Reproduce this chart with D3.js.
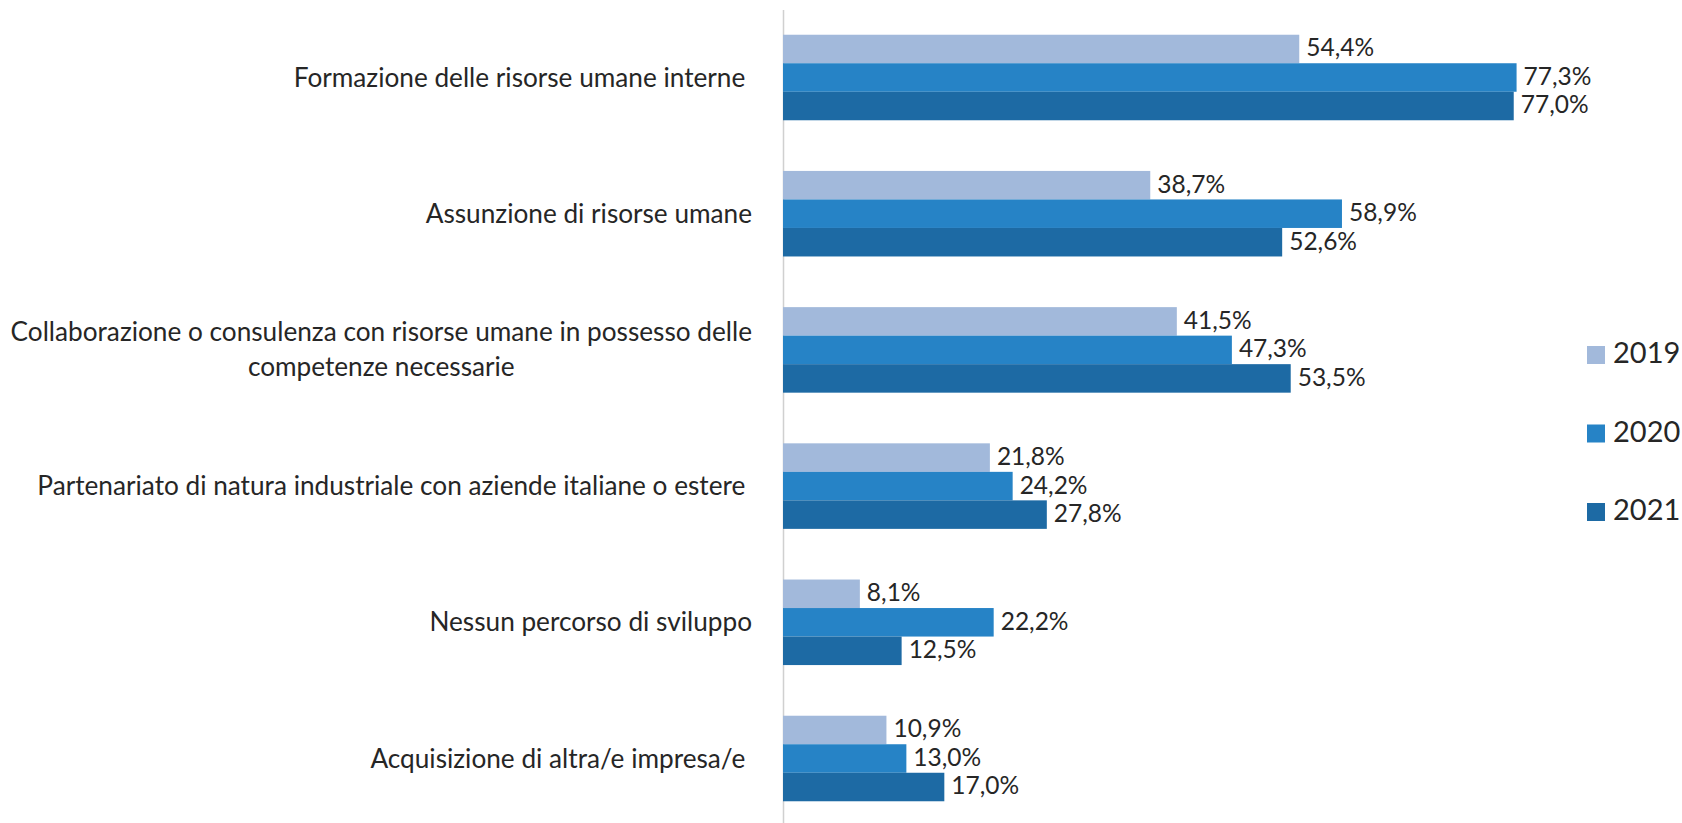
<!DOCTYPE html>
<html>
<head>
<meta charset="utf-8">
<script src="https://cdn.jsdelivr.net/npm/d3@7"></script>
<style>
  html, body { margin: 0; padding: 0; background: #ffffff; }
  svg { display: block; }
  text { font-family: Lato, "Open Sans", sans-serif; fill: #262626; white-space: pre; }
</style>
</head>
<body>
<svg id="chart" width="1682" height="823"></svg>
<script>
// ---- data ----
const categories = [
  "Formazione delle risorse umane interne ",
  "Assunzione di risorse umane",
  "Collaborazione o consulenza con risorse umane in possesso delle competenze necessarie",
  "Partenariato di natura industriale con aziende italiane o estere ",
  "Nessun percorso di sviluppo",
  "Acquisizione di altra/e impresa/e "
];
const categoryLines = [
  ["Formazione delle risorse umane interne "],
  ["Assunzione di risorse umane"],
  ["Collaborazione o consulenza con risorse umane in possesso delle", "competenze necessarie"],
  ["Partenariato di natura industriale con aziende italiane o estere "],
  ["Nessun percorso di sviluppo"],
  ["Acquisizione di altra/e impresa/e "]
];
const years = ["2019", "2020", "2021"];
const values2019 = [54.4, 38.7, 41.5, 21.8, 8.1, 10.9];
const values2020 = [77.3, 58.9, 47.3, 24.2, 22.2, 13.0];
const values2021 = [77.0, 52.6, 53.5, 27.8, 12.5, 17.0];
const colors = ["#A2B9DB", "#2683C6", "#1D6AA4"];

const seriesValues = [values2019, values2020, values2021];
const rows = categories.map((c, i) => ({
  category: c,
  values: years.map((y, k) => ({ year: y, value: seriesValues[k][i] }))
}));

// ---- layout ----
const svg = d3.select("#chart");
const axisX = 783;
const labelRight = 752;

const x = d3.scaleLinear().domain([0, 100]).range([axisX, axisX + 949]);
const y = d3.scaleBand().domain(categories).range([9.4, 826.6])
  .paddingInner(0.372).paddingOuter(0.186);
const yInner = d3.scaleBand().domain(years).range([0, y.bandwidth()]).padding(0);
const color = d3.scaleOrdinal().domain(years).range(colors);
const fmt = v => d3.format(".1f")(v).replace(".", ",") + "%";

// axis line
const axis = svg.append("g")
  .attr("transform", `translate(${axisX},0)`)
  .call(d3.axisLeft(y).tickSize(0).tickFormat(""));
axis.select(".domain").attr("stroke", "#d0d0d0").attr("stroke-width", 1.5);

// bars
const groups = svg.append("g").selectAll("g").data(rows).join("g")
  .attr("transform", d => `translate(0,${y(d.category)})`);

groups.selectAll("rect").data(d => d.values).join("rect")
  .attr("x", x(0))
  .attr("y", d => yInner(d.year))
  .attr("width", d => x(d.value) - x(0))
  .attr("height", yInner.bandwidth())
  .attr("fill", d => color(d.year));

groups.selectAll("text.val").data(d => d.values).join("text")
  .attr("class", "val")
  .attr("x", d => x(d.value) + 7)
  .attr("y", d => yInner(d.year) + yInner.bandwidth() / 2 - 2)
  .attr("dominant-baseline", "central")
  .style("font-size", "24.5px")
  .text(d => fmt(d.value));

// category labels
const catG = svg.append("g");
categoryLines.forEach((lines, i) => {
  const cy = y(categories[i]) + y.bandwidth() / 2 - 1;
  const lh = 35;
  const g = catG.append("g");
  const texts = g.selectAll("text").data(lines).join("text")
    .attr("y", (d, j) => cy + (j - (lines.length - 1) / 2) * lh)
    .attr("dominant-baseline", "central")
    .style("font-size", "26.2px")
    .text(d => d);
  if (lines.length === 1) {
    texts.attr("x", labelRight).attr("text-anchor", "end");
  } else {
    let maxW = 0;
    texts.each(function () { maxW = Math.max(maxW, this.getComputedTextLength()); });
    texts.attr("x", labelRight - maxW / 2).attr("text-anchor", "middle");
  }
});

// legend
const legend = svg.append("g").attr("transform", "translate(1587,346)");
const li = legend.selectAll("g").data(years).join("g")
  .attr("transform", (d, i) => `translate(0,${i * 78.5})`);
li.append("rect").attr("width", 18).attr("height", 18).attr("fill", d => color(d));
li.append("text").attr("x", 26).attr("y", 17)
  .style("font-size", "29px").text(d => d);
</script>
</body>
</html>
